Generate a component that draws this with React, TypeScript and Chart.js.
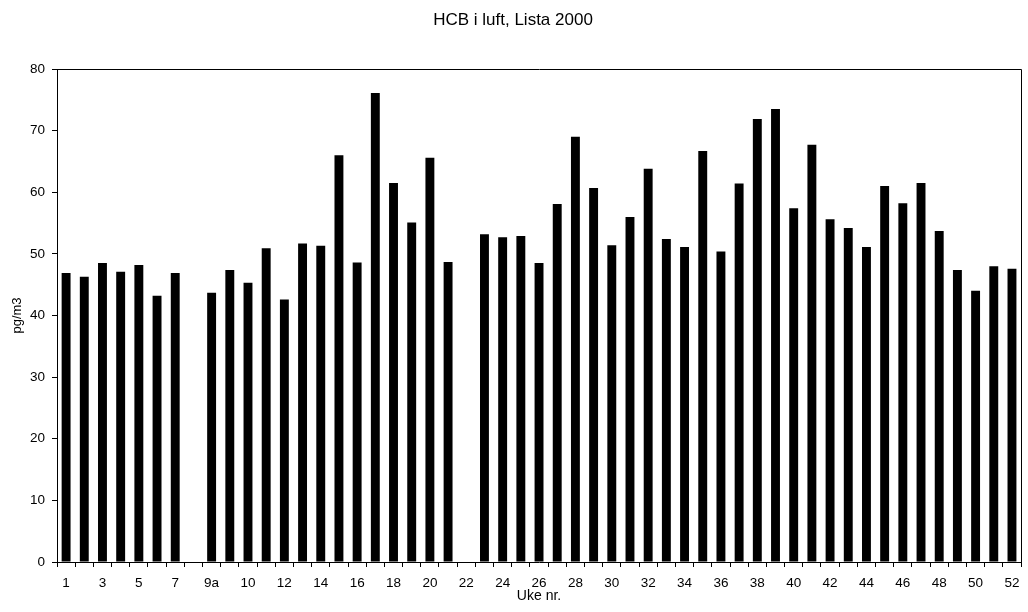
import React, { useEffect, useRef } from "react";
import { Chart, registerables } from "chart.js";

Chart.register(...registerables);

const weeks: string[] = [
  "1", "2", "3", "4", "5", "6", "7", "8", "9a", "9b",
  "10", "11", "12", "13", "14", "15", "16", "17", "18", "19",
  "20", "21", "22", "23", "24", "25", "26", "27", "28", "29",
  "30", "31", "32", "33", "34", "35", "36", "37", "38", "39",
  "40", "41", "42", "43", "44", "45", "46", "47", "48", "49",
  "50", "51", "52",
];

const hcbValues: (number | null)[] = [
  46.9, 46.3, 48.5, 47.1, 48.2, 43.2, 46.9, null, 43.7, 47.4,
  45.3, 50.9, 42.6, 51.7, 51.3, 66.0, 48.6, 76.1, 61.5, 55.1,
  65.6, 48.7, null, 53.2, 52.7, 52.9, 48.5, 58.1, 69.0, 60.7,
  51.4, 56.0, 63.8, 52.4, 51.1, 66.7, 50.4, 61.4, 71.9, 73.5,
  57.4, 67.7, 55.6, 54.2, 51.1, 61.0, 58.2, 61.5, 53.7, 47.4,
  44.0, 48.0, 47.6,
];

const titleText = "HCB i luft, Lista 2000";
const xTitle = "Uke nr.";
const yTitle = "pg/m3";
const yMin = 0;
const yMax = 80;
const yStep = 10;

const FONT = '"Liberation Sans", Arial, Helvetica, sans-serif';

const frame = {
  id: "frame",
  afterDatasetsDraw(chart: any) {
    const { ctx, chartArea } = chart;
    ctx.save();
    ctx.strokeStyle = "#000";
    ctx.lineWidth = 1;
    ctx.beginPath();
    ctx.moveTo(Math.round(chartArea.left) + 0.5, Math.round(chartArea.top) + 0.5);
    ctx.lineTo(Math.round(chartArea.right) + 0.5, Math.round(chartArea.top) + 0.5);
    ctx.lineTo(Math.round(chartArea.right) + 0.5, Math.round(chartArea.bottom) + 0.5);
    ctx.stroke();
    ctx.restore();
  },
};

export default function App() {
  const ref = useRef<HTMLCanvasElement | null>(null);

  useEffect(() => {
    if (!ref.current) return;
    const chart = new Chart(ref.current, {
      type: "bar",
      data: {
        labels: weeks,
        datasets: [
          {
            data: hcbValues,
            backgroundColor: "#000",
            borderWidth: 0,
            categoryPercentage: 1,
            barPercentage: 0.49,
          },
        ],
      },
      options: {
        responsive: false,
        animation: false,
        layout: { padding: { left: 0, right: 2, top: 0, bottom: 0 } },
        plugins: {
          legend: { display: false },
          tooltip: { enabled: false },
          title: {
            display: true,
            text: titleText,
            color: "#000",
            font: { family: FONT, size: 17, weight: "normal" },
            padding: { top: 9.8, bottom: 38.8 },
          },
        },
        scales: {
          x: {
            offset: true,
            grid: {
              display: true,
              drawOnChartArea: false,
              drawTicks: true,
              tickLength: 5,
              color: "#000",
              offset: true,
            },
            border: { display: true, color: "#000", width: 1 },
            ticks: {
              autoSkip: false,
              maxRotation: 0,
              minRotation: 0,
              color: "#000",
              padding: 8.5,
              font: { family: FONT, size: 13.5 },
              callback: (_v: any, i: number) => (i % 2 === 0 ? weeks[i] : ""),
            },
            title: {
              display: true,
              text: xTitle,
              color: "#000",
              font: { family: FONT, size: 14 },
              padding: { top: 0, bottom: 7 },
            },
            afterFit: (s: any) => {
              s.height = 50;
            },
          },
          y: {
            min: yMin,
            max: yMax,
            grid: {
              display: true,
              drawOnChartArea: false,
              drawTicks: true,
              tickLength: 5,
              color: "#000",
            },
            border: { display: true, color: "#000", width: 1 },
            ticks: {
              stepSize: yStep,
              color: "#000",
              padding: 7,
              font: { family: FONT, size: 13.5 },
            },
            title: {
              display: true,
              text: yTitle,
              color: "#000",
              font: { family: FONT, size: 13 },
              padding: { top: 10, bottom: 0 },
            },
            afterFit: (s: any) => {
              s.width = 57;
            },
          },
        },
      },
      plugins: [frame],
    });
    return () => chart.destroy();
  }, []);

  return (
    <div style={{ position: "fixed", left: 0, top: 0, width: 1028, height: 612, background: "#fff" }}>
      <canvas ref={ref} width={1028} height={612} style={{ width: 1028, height: 612 }} />
    </div>
  );
}
